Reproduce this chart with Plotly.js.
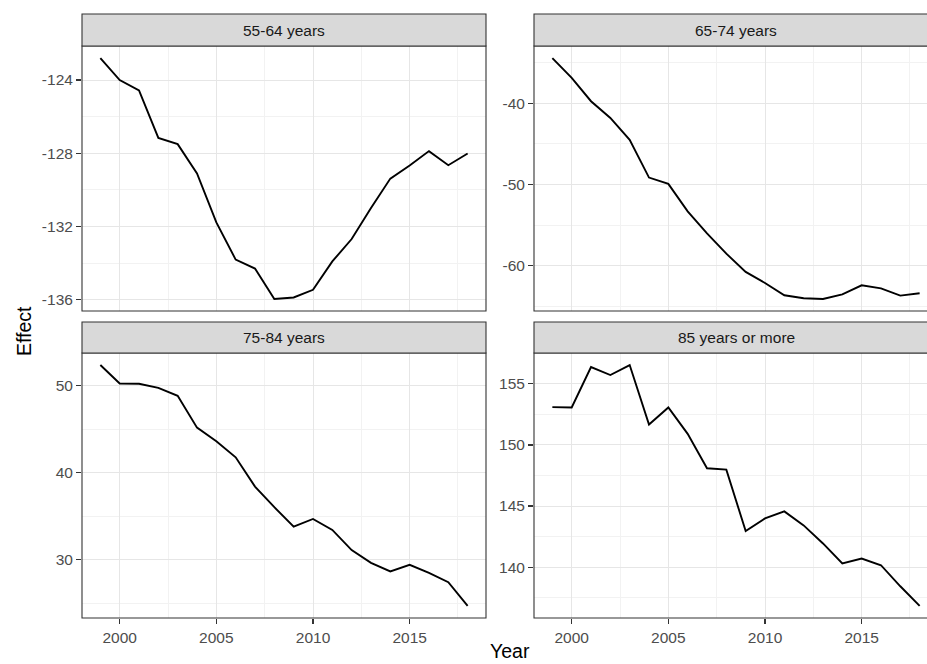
<!DOCTYPE html>
<html>
<head>
<meta charset="utf-8">
<script src="https://cdn.plot.ly/plotly-3.0.1.min.js"></script>
<style>html,body{margin:0;padding:0;background:#fff;}#chart{width:927px;height:664px;}</style>
</head>
<body>
<div id="chart"></div>
<script>
const years = [1999,2000,2001,2002,2003,2004,2005,2006,2007,2008,2009,2010,2011,2012,2013,2014,2015,2016,2017,2018];
const panelTitles = ["55-64 years","65-74 years","75-84 years","85 years or more"];
const g5564 = [-122.8,-124.0,-124.57,-127.16,-127.5,-129.1,-131.77,-133.8,-134.29,-135.95,-135.87,-135.45,-133.9,-132.68,-130.99,-129.38,-128.67,-127.88,-128.65,-128.01];
const g6574 = [-34.44,-36.87,-39.75,-41.81,-44.49,-49.14,-49.92,-53.29,-56.0,-58.5,-60.74,-62.1,-63.62,-63.99,-64.07,-63.5,-62.39,-62.76,-63.66,-63.37];
const g7584 = [52.34,50.23,50.2,49.73,48.81,45.16,43.59,41.75,38.4,36.03,33.8,34.68,33.42,31.11,29.65,28.66,29.42,28.5,27.43,24.7];
const g85plus = [153.09,153.06,156.37,155.71,156.53,151.67,153.06,150.9,148.09,147.98,142.95,143.99,144.56,143.42,141.94,140.3,140.71,140.16,138.44,136.83];
const xTicks = [2000, 2005, 2010, 2015];
const yTicks = [[-136,-132,-128,-124],[-60,-50,-40],[30,40,50],[140,145,150,155]];
const series = [g5564, g6574, g7584, g85plus];

const W = 927, H = 664;
const px = v => v / W, py = v => (H - v) / H;
const boxes = [[82,486,46,311],[534,938,46,311],[82,486,353,618],[534,938,353,618]];
const stripTop = [14,14,322,322];

const FONT = '"Liberation Sans", Arial, Helvetica, sans-serif';
const data = [];
const layout = {
  width: W, height: H,
  margin: {l:0,r:0,t:0,b:0,pad:0},
  paper_bgcolor: '#ffffff', plot_bgcolor: '#ffffff',
  showlegend: false,
  font: {family: FONT, size: 15.5, color: '#4D4D4D'},
  shapes: [], annotations: []
};

function minorsOf(t) {
  const step = t[1] - t[0];
  const out = [];
  for (let k = -1; k < t.length; k++) out.push(t[0] + step * (k + 0.5));
  return out;
}

const xmin = years[0], xmax = years[years.length-1];
const xexp = (xmax - xmin) * 0.05;
const xlo = xmin - xexp, xhi = xmax + xexp;
const pxPerYear = (boxes[0][1] - boxes[0][0]) / (xhi - xlo);

series.forEach((vals, i) => {
  const n = i + 1;
  const sfx = n === 1 ? '' : String(n);
  const b = boxes[i];
  const visRight = Math.min(b[1], W);
  const xRangeHi = xlo + (visRight - b[0]) / pxPerYear;
  const mn = Math.min(...vals), mx = Math.max(...vals);
  const sp = mx - mn;
  data.push({
    x: years, y: vals, type: 'scatter', mode: 'lines',
    line: {color: '#000000', width: 1.9},
    xaxis: 'x' + sfx, yaxis: 'y' + sfx, hoverinfo: 'skip'
  });
  const bottomRow = i >= 2;
  layout['xaxis' + sfx] = {
    domain: [px(b[0]), px(visRight)],
    range: [xlo, xRangeHi],
    anchor: 'y' + sfx,
    tickmode: 'array', tickvals: xTicks, ticktext: xTicks.map(String),
    showticklabels: bottomRow,
    ticks: bottomRow ? 'outside' : '', ticklen: 5, tickwidth: 1.2, tickcolor: '#333333',
    showgrid: true, gridcolor: '#E6E6E6', gridwidth: 1,
    minor: {tickmode: 'array', tickvals: minorsOf(xTicks), showgrid: true, gridcolor: '#F2F2F2', gridwidth: 1, ticks: ''},
    zeroline: false, showline: false,
    tickfont: {family: FONT, size: 15.5, color: '#4D4D4D'},
    fixedrange: true
  };
  layout['yaxis' + sfx] = {
    domain: [py(b[3]), py(b[2])],
    range: [mn - 0.05*sp, mx + 0.05*sp],
    anchor: 'x' + sfx,
    tickmode: 'array', tickvals: yTicks[i], ticktext: yTicks[i].map(String),
    ticks: 'outside', ticklen: 5, tickwidth: 1.2, tickcolor: '#333333',
    showgrid: true, gridcolor: '#E6E6E6', gridwidth: 1,
    minor: {tickmode: 'array', tickvals: minorsOf(yTicks[i]), showgrid: true, gridcolor: '#F2F2F2', gridwidth: 1, ticks: ''},
    zeroline: false, showline: false,
    tickfont: {family: FONT, size: 15.5, color: '#4D4D4D'},
    fixedrange: true
  };
  layout.shapes.push({type:'rect', xref:'paper', yref:'paper',
    x0: px(b[0]), x1: px(b[1]), y0: py(b[3]), y1: py(b[2]),
    line: {color:'#333333', width:1.1}, fillcolor:'rgba(0,0,0,0)', layer:'above'});
  layout.shapes.push({type:'rect', xref:'paper', yref:'paper',
    x0: px(b[0]), x1: px(b[1]), y0: py(b[2]), y1: py(stripTop[i]),
    line: {color:'#333333', width:1.1}, fillcolor:'#D9D9D9', layer:'above'});
  layout.annotations.push({xref:'paper', yref:'paper',
    x: px((b[0] + b[1]) / 2), y: py((b[2] + stripTop[i]) / 2),
    text: panelTitles[i], showarrow: false, xanchor:'center', yanchor:'middle',
    font: {family: FONT, size: 15.5, color: '#1A1A1A'}});
});

layout.annotations.push({xref:'paper', yref:'paper', x: px(24), y: py(331),
  text: 'Effect', showarrow: false, textangle: -90, xanchor:'center', yanchor:'middle',
  font: {family: FONT, size: 19.5, color: '#000000'}});
layout.annotations.push({xref:'paper', yref:'paper', x: px(510), y: py(664),
  text: 'Year', showarrow: false, xanchor:'center', yanchor:'bottom',
  font: {family: FONT, size: 19.5, color: '#000000'}});

Plotly.newPlot('chart', data, layout, {staticPlot: true, displayModeBar: false});
</script>
</body>
</html>
